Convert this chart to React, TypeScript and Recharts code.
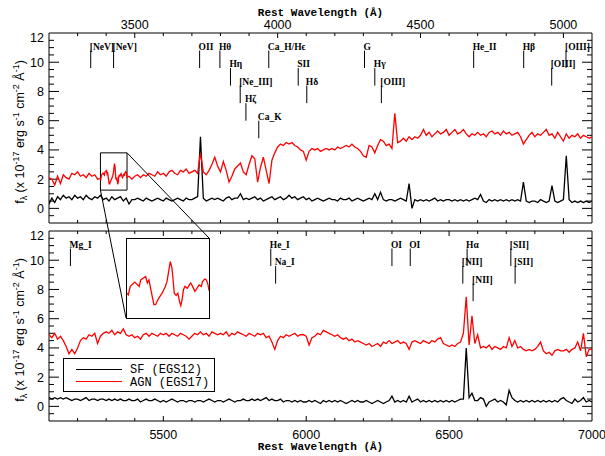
import React from "react";
import { LineChart, Line, XAxis, YAxis, ReferenceLine, ReferenceArea, Legend } from "recharts";

// layout of the two stacked panels (page pixels)
const PLOT_L = 49;
const PLOT_R = 592;
const TOP_Y0 = 33;
const BOT_Y0 = 231;
const BOT_PAD = 7; // room above the lower panel for its "12" label
const PANEL_H = 190;

const Y_MIN = -1;
const Y_MAX = 12;
const STEP = 10;

const topRange = [3200, 5100];
const botRange = [5100, 7000];
const topTickLabels = [3500, 4000, 4500, 5000];
const botTickLabels = [5500, 6000, 6500, 7000];
const yTickLabels = [0, 2, 4, 6, 8, 10, 12];

// flux, 1e-17 erg/s/cm2/A, sampled every 10 A
const topAgn = [
  2.1, 2.0, 1.6, 2.2, 1.7, 2.3, 2.1, 2.0, 2.4, 2.3,
  2.5, 2.2, 2.3, 2.1, 2.4, 2.2, 2.3, 2.0, 2.2, 2.3,
  2.5, 1.7, 2.1, 3.0, 1.7, 2.3, 2.3, 2.4, 2.2, 2.0,
  2.2, 2.3, 2.1, 2.3, 2.2, 2.4, 2.3, 2.2, 2.5, 2.3,
  2.4, 2.2, 2.5, 2.6, 2.4, 2.3, 2.6, 2.5, 2.7, 2.4,
  2.5, 2.6, 2.4, 3.8, 2.5, 2.3, 2.6, 3.0, 3.5, 2.9,
  2.5, 3.2, 2.6, 1.8, 2.2, 2.7, 2.9, 3.1, 2.5, 2.3,
  3.0, 3.6, 3.4, 1.8, 2.8, 3.5, 2.6, 1.7, 3.3, 3.8,
  4.2, 4.4, 4.3, 4.5, 4.4, 4.5, 4.3, 4.2, 4.0, 3.9,
  3.3, 3.9, 4.1, 4.0, 4.1, 3.9, 4.0, 4.1, 4.0, 4.1,
  4.0, 4.2, 4.1, 4.2, 4.3, 4.2, 4.4, 4.2, 4.1, 3.9,
  3.6, 3.5, 4.3, 4.2, 3.8, 4.3, 4.7, 4.6, 4.3, 4.4,
  4.1, 6.5, 4.5, 4.6, 4.8, 4.6, 4.9, 4.7, 4.9, 4.8,
  5.0, 5.4, 5.0, 5.2, 4.9, 5.1, 5.3, 5.1, 5.2, 5.4,
  5.0, 5.2, 5.4, 5.1, 5.2, 5.4, 5.1, 4.9, 5.1, 5.0,
  5.2, 5.0, 5.1, 4.9, 5.2, 5.3, 5.1, 5.2, 5.0, 5.3,
  5.1, 5.2, 5.0, 5.1, 5.2, 4.9, 4.4, 4.7, 5.0, 5.2,
  4.9, 5.1, 5.0, 5.2, 5.4, 5.0, 5.1, 4.8, 5.2, 4.9,
  4.6, 5.1, 4.8, 5.0, 4.9, 5.1, 4.8, 5.0, 4.9, 4.8,
  4.9,
];

const topSf = [
  0.3, 0.7, 0.4, 0.8, 0.6, 0.9, 0.7, 0.8, 0.6, 0.9,
  0.7, 0.8, 0.6, 0.9, 0.7, 0.6, 0.8, 0.7, 0.9, 0.6,
  0.7, 0.5, 0.8, 0.6, 0.7, 0.8, 0.5, 0.7, 0.3, 0.6,
  0.6, 0.7, 0.6, 0.5, 0.7, 0.6, 0.5, 0.6, 0.7, 0.6,
  0.5, 0.7, 0.6, 0.5, 0.6, 0.7, 0.6, 0.5, 0.7, 0.6,
  0.6, 0.7, 0.8, 4.9, 0.7, 0.5, 0.6, 0.7, 0.6, 0.7,
  0.6, 0.5, 0.7, 0.8, 0.6, 0.7, 0.7, 1.0, 0.6, 0.7,
  0.6, 0.7, 0.8, 0.6, 0.7, 0.5, 0.6, 0.7, 0.8, 0.6,
  0.7, 0.8, 0.6, 0.7, 0.9, 0.7, 0.8, 0.6, 0.7, 0.8,
  0.6, 0.7, 0.5, 0.6, 0.7, 0.6, 0.5, 0.6, 0.7, 0.6,
  0.6, 0.5, 0.7, 0.6, 0.6, 0.7, 0.5, 0.6, 0.7, 0.6,
  0.5, 0.6, 0.7, 0.6, 1.0, 0.6, 1.1, 0.6, 0.5, 0.6,
  0.6, 0.5, 0.6, 0.7, 0.6, 0.5, 1.7, 0.0, 0.6, 0.5,
  0.6, 0.5, 0.6, 0.5, 0.6, 0.7, 0.5, 0.6, 0.5, 0.6,
  0.6, 0.5, 0.6, 0.5, 0.6, 0.5, 0.6, 0.5, 0.6, 0.7,
  0.6, 0.95, 0.5, 0.4, 0.6, 0.5, 0.6, 0.5, 0.6, 0.5,
  0.6, 0.5, 0.6, 0.5, 0.6, 0.5, 1.8, 0.5, 0.4, 0.5,
  0.5, 0.4, 0.6, 0.5, 0.4, 0.5, 1.55, 0.5, 0.4, 0.5,
  0.6, 3.6, 0.6, 0.4, 0.5, 0.4, 0.5, 0.4, 0.5, 0.4,
  0.5,
];

const botAgn = [
  4.9, 4.7, 5.0, 4.6, 4.8, 4.5, 4.1, 3.6, 3.9, 3.6,
  4.0, 4.5, 4.7, 4.6, 4.9, 4.8, 5.0, 4.3, 4.8, 5.0,
  5.1, 5.0, 5.2, 4.9, 5.1, 5.0, 5.3, 4.9, 4.8, 4.9,
  4.7, 4.8, 4.6, 4.9, 5.0, 4.8, 5.0, 4.9, 4.8, 5.0,
  4.9, 5.0, 4.8, 5.0, 4.9, 4.8, 5.0, 4.9, 4.8, 4.6,
  4.8, 5.0, 4.9, 5.1, 4.9, 5.0, 4.8, 5.1, 5.0, 4.9,
  5.0, 4.9, 5.1, 4.8, 5.0, 4.9, 5.1, 5.0, 4.9, 4.8,
  5.0, 4.9, 4.8, 5.0, 4.9, 5.0, 4.7, 4.8, 4.4, 3.9,
  4.5, 4.8, 4.7, 4.9, 4.8, 4.9, 5.0, 4.8, 4.9, 4.9,
  4.8, 4.2, 4.7, 4.8, 5.0, 4.9, 5.2, 5.1, 5.0, 4.9,
  4.8, 4.9, 4.7, 4.6, 4.7, 4.5, 4.6, 4.4, 4.5, 4.4,
  4.3, 4.2, 4.3, 4.1, 4.2, 4.3, 4.1, 4.4, 4.3, 4.5,
  4.3, 4.4, 4.5, 4.3, 4.4, 4.3, 3.9, 4.4, 4.5, 4.4,
  4.3, 4.5, 4.4, 4.3, 4.5, 4.4, 4.6, 4.7, 4.3, 4.2,
  4.1, 4.2, 4.1, 4.3, 4.4, 5.0, 7.5, 4.2, 6.2, 4.3,
  4.9, 4.0, 4.1, 4.0, 4.2, 3.9, 4.1, 4.0, 3.9, 4.1,
  4.0, 4.7, 4.1, 4.5, 4.0, 4.1, 3.9, 3.8, 3.9, 3.8,
  3.9, 4.1, 4.4, 3.8, 3.6, 3.7, 3.5, 3.8, 3.9, 3.8,
  3.8, 3.9, 3.7, 3.9, 4.0, 4.4, 3.8, 5.0, 3.4, 3.9,
  3.9,
];

const botSf = [
  0.6, 0.5, 0.6, 0.5, 0.6, 0.5, 0.6, 0.5, 0.4, 0.5,
  0.5, 0.4, 0.5, 0.6, 0.4, 0.5, 0.5, 0.4, 0.5, 0.5,
  0.4, 0.5, 0.4, 0.5, 0.4, 0.5, 0.4, 0.4, 0.5, 0.4,
  0.4, 0.5, 0.3, 0.4, 0.5, 0.4, 0.4, 0.5, 0.4, 0.3,
  0.4, 0.3, 0.4, 0.5, 0.4, 0.3, 0.4, 0.4, 0.3, 0.4,
  0.4, 0.3, 0.4, 0.4, 0.3, 0.4, 0.5, 0.4, 0.3, 0.4,
  0.4, 0.3, 0.4, 0.5, 0.4, 0.3, 0.4, 0.4, 0.5, 0.4,
  0.4, 0.5, 0.4, 0.5, 0.4, 0.5, 0.6, 0.4, 0.5, 0.4,
  0.4, 0.5, 0.3, 0.4, 0.4, 0.3, 0.4, 0.3, 0.4, 0.3,
  0.3, 0.4, 0.3, 0.4, 0.3, 0.2, 0.4, 0.3, 0.4, 0.3,
  0.4, 0.3, 0.4, 0.3, 0.2, 0.3, 0.4, 0.3, 0.4, 0.3,
  0.3, 0.4, 0.3, 0.2, 0.3, 0.4, 0.3, 0.2, 0.3, 0.4,
  0.7, 0.3, 0.4, 0.3, 0.4, 0.3, 0.7, 0.3, 0.4, 0.5,
  0.3, 0.4, 0.3, 0.4, 0.3, 0.4, 0.3, 0.4, 0.3, 0.4,
  0.3, 0.4, 0.3, 0.4, 0.5, 0.5, 4.0, 0.6, 0.9, 0.4,
  0.4, 0.6, 0.5, 0.0, 0.3, 0.4, 0.5, 0.3, 0.4, 0.3,
  0.1, 1.1, 0.6, 0.4, 0.3, 0.4, 0.3, 0.4, 0.3, 0.4,
  0.3, 0.4, 0.3, 0.4, 0.3, 0.4, 0.3, 0.4, 0.3, 0.5,
  0.6, 0.4, 0.3, 0.2, 0.5, 0.3, 0.4, 0.6, 0.3, 0.4,
  0.3,
];

// zoomed region around [NeV] 3426 (finer sampling, shown in the inset)
const insetRange = [3380, 3473];
const insetFlux = [1.25, 3.8];
const insetWave = [
  3380, 3381.5, 3383.7, 3386.3, 3388.9, 3391.9, 3393.8, 3395.6, 3398.6, 3401.2,
  3403.1, 3404.9, 3406.8, 3408.6, 3410.5, 3412.4, 3414.2, 3416.1, 3419.8, 3421.7,
  3423.5, 3425.4, 3427.2, 3429.1, 3431, 3432.1, 3433.6, 3435.8, 3437.7, 3439.5,
  3441, 3442.5, 3444, 3445.8, 3448.4, 3450.7, 3452.2, 3454.4, 3457, 3458.9,
  3461.8, 3464.4, 3465.6, 3468.2, 3470, 3471.9, 3473,
];
const insetAgn = [
  2.05, 2.0, 2.27, 2.34, 2.41, 2.32, 2.27, 2.48, 2.54, 2.59,
  2.38, 2.48, 2.21, 1.95, 1.68, 1.68, 1.79, 1.89, 2.05, 2.16,
  2.27, 2.43, 2.75, 3.07, 2.86, 2.54, 2.05, 1.98, 2.05, 1.79,
  1.65, 1.84, 2.16, 2.27, 2.21, 2.32, 2.38, 2.27, 2.11, 2.19,
  2.32, 2.27, 2.43, 2.51, 2.48, 2.32, 2.13,
];

// emission / absorption line markers
const topLineNames = ["[NeV]", "[NeV]", "OII", "Hθ", "Hη", "[Ne_III]", "Hζ", "Ca_K", "Ca_H/Hϵ", "SII", "Hδ", "G", "Hγ", "[OIII]", "He_II", "Hβ", "[OIII]", "[OIII]"];
const topLineWaves = [3346, 3426, 3727, 3798, 3835, 3869, 3889, 3934, 3969, 4072, 4102, 4304, 4340, 4363, 4686, 4861, 4959, 5009];
const topLineRows = [0, 0, 0, 0, 1, 2, 3, 4, 0, 1, 2, 0, 1, 2, 0, 0, 1, 0];
const botLineNames = ["Mg_I", "He_I", "Na_I", "OI", "OI", "Hα", "[NII]", "[NII]", "[SII]", "[SII]"];
const botLineWaves = [5175, 5876, 5893, 6300, 6364, 6563, 6548, 6584, 6716, 6731];
const botLineRows = [0, 0, 1, 0, 0, 0, 1, 2, 0, 1];

const RED = "#ff0000";
const BLACK = "#000000";

const pxX = (PLOT_R - PLOT_L) / 1900; // px per angstrom
const pxY = PANEL_H / (Y_MAX - Y_MIN); // px per flux unit

const topRows = [
  ...topAgn.map((a, i) => {
    const w = topRange[0] + i * STEP;
    const inBox = w >= insetRange[0] && w <= insetRange[1];
    return { w, agn: inBox ? undefined : a, sf: topSf[i] };
  }),
  ...insetWave.map((w, i) => ({ w, agn: insetAgn[i], sf: undefined })),
].sort((a, b) => a.w - b.w);

const botRows = botAgn.map((a, i) => ({ w: botRange[0] + i * STEP, agn: a, sf: botSf[i] }));
const insetRows = insetWave.map((w, i) => ({ w, agn: insetAgn[i] }));

function frameTicks(x0: number, x1: number) {
  const out: React.ReactNode[] = [];
  const xMaj = 5 / pxY;
  const xMin = 3 / pxY;
  const yMaj = 10 / pxX;
  const yMin = 5 / pxX;
  for (let w = x0 + 100; w < x1; w += 100) {
    const len = w % 500 === 0 ? xMaj : xMin;
    out.push(<ReferenceLine key={`xb${w}`} segment={[{ x: w, y: Y_MIN }, { x: w, y: Y_MIN + len }]} stroke={BLACK} ifOverflow="visible" />);
    out.push(<ReferenceLine key={`xt${w}`} segment={[{ x: w, y: Y_MAX }, { x: w, y: Y_MAX - len }]} stroke={BLACK} ifOverflow="visible" />);
  }
  for (let v = Y_MIN + 0.5; v < Y_MAX; v += 0.5) {
    const len = v % 2 === 0 ? yMaj : yMin;
    out.push(<ReferenceLine key={`yl${v}`} segment={[{ x: x0, y: v }, { x: x0 + len, y: v }]} stroke={BLACK} ifOverflow="visible" />);
    out.push(<ReferenceLine key={`yr${v}`} segment={[{ x: x1, y: v }, { x: x1 - len, y: v }]} stroke={BLACK} ifOverflow="visible" />);
  }
  out.push(
    <ReferenceArea key="frame" x1={x0} x2={x1} y1={Y_MIN} y2={Y_MAX} fill="none" stroke={BLACK} strokeWidth={1} ifOverflow="visible" />
  );
  return out;
}

function lineMarkers(names: string[], waves: number[], rows: number[]) {
  return names.map((name, i) => {
    const top = 10.8 - 1.2 * rows[i];
    return (
      <ReferenceLine
        key={`lm${i}`}
        segment={[{ x: waves[i], y: top }, { x: waves[i], y: top - 1.2 }]}
        stroke={BLACK}
        strokeWidth={1}
        ifOverflow="visible"
        label={(p: any) => (
          <text x={p.viewBox.x - 1} y={p.viewBox.y - 1} fontFamily="Liberation Serif" fontWeight="bold" fontSize={9.5} fill={BLACK}>
            {name}
          </text>
        )}
      />
    );
  });
}

function YTitle({ viewBox }: any) {
  const cx = viewBox.x + 24;
  const cy = viewBox.y + viewBox.height / 2 + 4;
  const sup = { fontSize: 9 };
  return (
    <text transform={`rotate(-90 ${cx} ${cy})`} x={cx} y={cy} textAnchor="middle" fontFamily="Liberation Sans" fontSize={12.5} fill={BLACK}>
      f<tspan fontSize={9} dy={3}>λ</tspan>
      <tspan dy={-3}> (x 10</tspan>
      <tspan {...sup} dy={-5}>-17</tspan>
      <tspan dy={5}> erg s</tspan>
      <tspan {...sup} dy={-5}>-1</tspan>
      <tspan dy={5}> cm</tspan>
      <tspan {...sup} dy={-5}>-2</tspan>
      <tspan dy={5}> Å</tspan>
      <tspan {...sup} dy={-5}>-1</tspan>
      <tspan dy={5}>)</tspan>
    </text>
  );
}

const yTick = (p: any) => (
  <text x={p.x} y={p.y + (p.payload.value === 12 ? 4 : 0)} dy="0.36em" textAnchor="end" fontFamily="Liberation Sans" fontSize={12.5} fill={BLACK}>
    {p.payload.value}
  </text>
);

const axisFont = { fontSize: 12.5, fill: BLACK, fontFamily: "Liberation Sans" };
const titleFont = { fontSize: 11, fill: BLACK, fontFamily: "Liberation Mono", fontWeight: "bold" };

function LegendBox() {
  return (
    <svg width={153} height={35}>
      <rect x={0.5} y={0.5} width={151} height={33} fill="#fff" stroke={BLACK} />
      <line x1={13} x2={59} y1={11.5} y2={11.5} stroke={BLACK} strokeWidth={1.2} />
      <line x1={13} x2={59} y1={23.5} y2={23.5} stroke={RED} strokeWidth={1.2} />
      <text x={67} y={15} fontFamily="Liberation Mono" fontSize={12} fill={BLACK}>SF (EGS12)</text>
      <text x={67} y={27.5} fontFamily="Liberation Mono" fontSize={12} fill={BLACK}>AGN (EGS17)</text>
    </svg>
  );
}

export default function App() {
  const insetBox = { left: 126, top: 238, width: 84, height: 81 };
  const toTopX = (w: number) => PLOT_L + (w - topRange[0]) * pxX;
  const toTopY = (v: number) => TOP_Y0 + (Y_MAX - v) * pxY;
  const botTop = BOT_Y0 - BOT_PAD;

  return (
    <div style={{ position: "absolute", left: 0, top: 0, width: 605, height: 456, background: "#fff" }}>
      <div style={{ position: "absolute", left: 0, top: 0 }}>
        <LineChart width={605} height={230} data={topRows} margin={{ top: 0, right: 605 - PLOT_R, bottom: 7, left: 0 }}>
          <XAxis
            dataKey="w"
            type="number"
            orientation="top"
            domain={topRange}
            allowDataOverflow
            ticks={topTickLabels}
            interval={0}
            tickLine={false}
            axisLine={false}
            tickSize={0}
            tickMargin={4}
            height={TOP_Y0}
            tick={axisFont}
            label={{ value: "Rest Wavelength (Å)", position: "insideTop", offset: 8, ...titleFont }}
          />
          <YAxis
            type="number"
            domain={[Y_MIN, Y_MAX]}
            allowDataOverflow
            ticks={yTickLabels}
            interval={0}
            tickLine={false}
            axisLine={false}
            tickSize={0}
            tickMargin={5}
            width={PLOT_L}
            tick={yTick}
            label={(p: any) => <YTitle viewBox={p.viewBox} />}
          />
          {frameTicks(topRange[0], topRange[1])}
          {lineMarkers(topLineNames, topLineWaves, topLineRows)}
          <ReferenceArea x1={insetRange[0]} x2={insetRange[1]} y1={insetFlux[0]} y2={insetFlux[1]} fill="none" stroke={BLACK} strokeWidth={1} />
          <Line dataKey="sf" stroke={BLACK} strokeWidth={1.3} dot={false} connectNulls isAnimationActive={false} />
          <Line dataKey="agn" stroke={RED} strokeWidth={1.3} dot={false} connectNulls isAnimationActive={false} />
        </LineChart>
      </div>

      <div style={{ position: "absolute", left: 0, top: botTop }}>
        <LineChart width={605} height={456 - botTop} data={botRows} margin={{ top: BOT_PAD, right: 605 - PLOT_R, bottom: 0, left: 0 }}>
          <XAxis
            dataKey="w"
            type="number"
            orientation="bottom"
            domain={botRange}
            allowDataOverflow
            ticks={botTickLabels}
            interval={0}
            tickLine={false}
            axisLine={false}
            tickSize={0}
            tickMargin={9}
            height={456 - BOT_Y0 - PANEL_H}
            tick={axisFont}
            label={{ value: "Rest Wavelength (Å)", position: "insideBottom", offset: 6, ...titleFont }}
          />
          <YAxis
            type="number"
            domain={[Y_MIN, Y_MAX]}
            allowDataOverflow
            ticks={yTickLabels}
            interval={0}
            tickLine={false}
            axisLine={false}
            tickSize={0}
            tickMargin={5}
            width={PLOT_L}
            tick={yTick}
            label={(p: any) => <YTitle viewBox={p.viewBox} />}
          />
          {frameTicks(botRange[0], botRange[1])}
          {lineMarkers(botLineNames, botLineWaves, botLineRows)}
          <Line dataKey="sf" stroke={BLACK} strokeWidth={1.3} dot={false} isAnimationActive={false} />
          <Line dataKey="agn" stroke={RED} strokeWidth={1.3} dot={false} isAnimationActive={false} />
          <Legend
            layout="vertical"
            align="center"
            verticalAlign="middle"
            content={() => <LegendBox />}
            wrapperStyle={{ left: 63, top: 358 - botTop, width: 153, height: 35 }}
          />
        </LineChart>
      </div>

      <div
        style={{
          position: "absolute",
          left: insetBox.left,
          top: insetBox.top,
          width: insetBox.width,
          height: insetBox.height,
          border: "1px solid #000",
          boxSizing: "border-box",
          background: "#fff",
        }}
      >
        <LineChart width={insetBox.width - 2} height={insetBox.height - 2} data={insetRows} margin={{ top: 0, right: 0, bottom: 0, left: 0 }}>
          <XAxis dataKey="w" type="number" domain={insetRange} allowDataOverflow hide />
          <YAxis type="number" domain={insetFlux} allowDataOverflow hide />
          <Line dataKey="agn" stroke={RED} strokeWidth={1.3} dot={false} isAnimationActive={false} />
        </LineChart>
      </div>

      <svg width={605} height={456} style={{ position: "absolute", left: 0, top: 0, pointerEvents: "none" }}>
        <line
          x1={toTopX(insetRange[0])}
          y1={toTopY(insetFlux[0])}
          x2={insetBox.left}
          y2={insetBox.top + insetBox.height - 1}
          stroke={BLACK}
          strokeWidth={1}
        />
        <line
          x1={toTopX(insetRange[1])}
          y1={toTopY(insetFlux[1])}
          x2={insetBox.left + insetBox.width - 1}
          y2={insetBox.top}
          stroke={BLACK}
          strokeWidth={1}
        />
      </svg>
    </div>
  );
}
